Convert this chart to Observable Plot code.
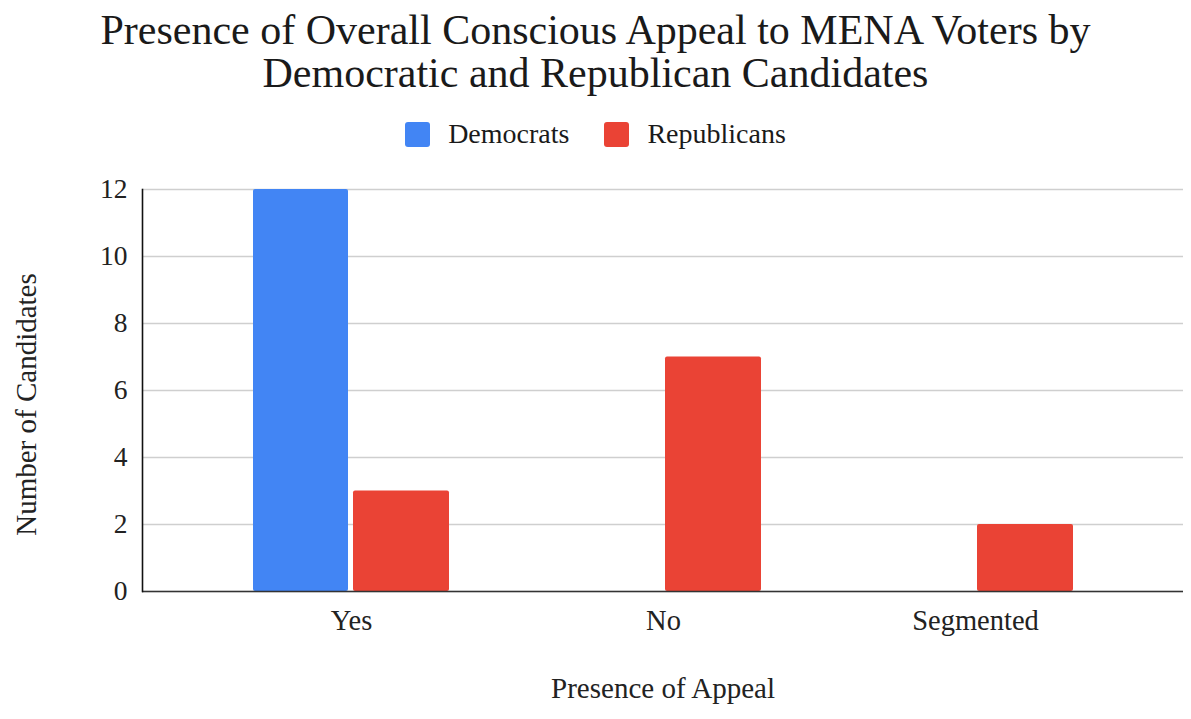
<!DOCTYPE html>
<html>
<head>
<meta charset="utf-8">
<script src="https://cdn.jsdelivr.net/npm/d3@7"></script>
<script src="https://cdn.jsdelivr.net/npm/@observablehq/plot@0.6"></script>
<style>
  html, body { margin: 0; padding: 0; background: #fff; }
  #wrap { width: 1191px; font-family: "Liberation Serif", "Times New Roman", serif; color: #1a1a1a; }
  #title { height: 105px; box-sizing: border-box; padding-top: 9px; text-align: center; font-size: 42px; line-height: 43px; }
  #legend { height: 55px; display: flex; justify-content: center; align-items: center; font-size: 28px; line-height: 28px; padding-left: 0px; box-sizing: border-box; padding-top: 3px; }
  .item { display: flex; align-items: center; }
  .sw { width: 25px; height: 25px; border-radius: 3px; margin-right: 18px; }
  .item + .item { margin-left: 35px; }
  svg { display: block; }
</style>
</head>
<body>
<div id="wrap">
  <div id="title">Presence of Overall Conscious Appeal to MENA Voters by<br>Democratic and Republican Candidates</div>
  <div id="legend"></div>
  <div id="chart"></div>
</div>
<script>
const categories = ["Yes", "No", "Segmented"];
const democrats = [12, 0, 0];
const republicans = [3, 7, 2];
const yTicks = [0, 2, 4, 6, 8, 10, 12];
const seriesNames = ["Democrats", "Republicans"];
const seriesColors = ["#4285F4", "#EA4335"];

const font = "Liberation Serif, Times New Roman, serif";

// legend row
const legend = document.getElementById("legend");
seriesNames.forEach((name, i) => {
  const item = document.createElement("div");
  item.className = "item";
  const sw = document.createElement("span");
  sw.className = "sw";
  sw.style.background = seriesColors[i];
  const label = document.createElement("span");
  label.textContent = name;
  item.append(sw, label);
  legend.append(item);
});

const demRows = categories.map((c, i) => ({category: c, value: democrats[i]}));
const repRows = categories.map((c, i) => ({category: c, value: republicans[i]}));

const chart = Plot.plot({
  width: 1191,
  height: 559,
  marginLeft: 142,
  marginRight: 8,
  marginTop: 29,
  marginBottom: 128,
  style: {fontFamily: font, fontSize: "27px", color: "#222", background: "#fff"},
  x: {type: "band", domain: categories, paddingInner: 0, paddingOuter: 0.168, label: null},
  y: {domain: [0, 12], label: null},
  marks: [
    Plot.gridY(yTicks, {stroke: "#cfcfcf", strokeOpacity: 1, strokeWidth: 1.3}),
    Plot.barY(demRows.filter(d => d.value > 0), {x: "category", y: "value", fill: seriesColors[0], insetLeft: 58, insetRight: 159, rx: 2}),
    Plot.barY(repRows.filter(d => d.value > 0), {x: "category", y: "value", fill: seriesColors[1], insetLeft: 158, insetRight: 58, rx: 2}),
    Plot.ruleY([0], {stroke: "#333", strokeWidth: 1.5}),
    Plot.frame({anchor: "left", stroke: "#111", strokeWidth: 1.6}),
    Plot.axisY({ticks: yTicks, tickSize: 0, tickPadding: 15, label: null, fontSize: 27.5, fill: "#222"}),
    Plot.axisX({tickSize: 0, tickPadding: 18, label: null, fontSize: 28.5, fill: "#222"}),
    Plot.text(["Number of Candidates"], {frameAnchor: "left", textAnchor: "middle", lineAnchor: "middle", rotate: -90, dx: -116, dy: 14, fontSize: 29, fill: "#222"}),
    Plot.text(["Presence of Appeal"], {frameAnchor: "bottom", dy: 106, fontSize: 29, fill: "#222"})
  ]
});
document.getElementById("chart").append(chart);
</script>
</body>
</html>
